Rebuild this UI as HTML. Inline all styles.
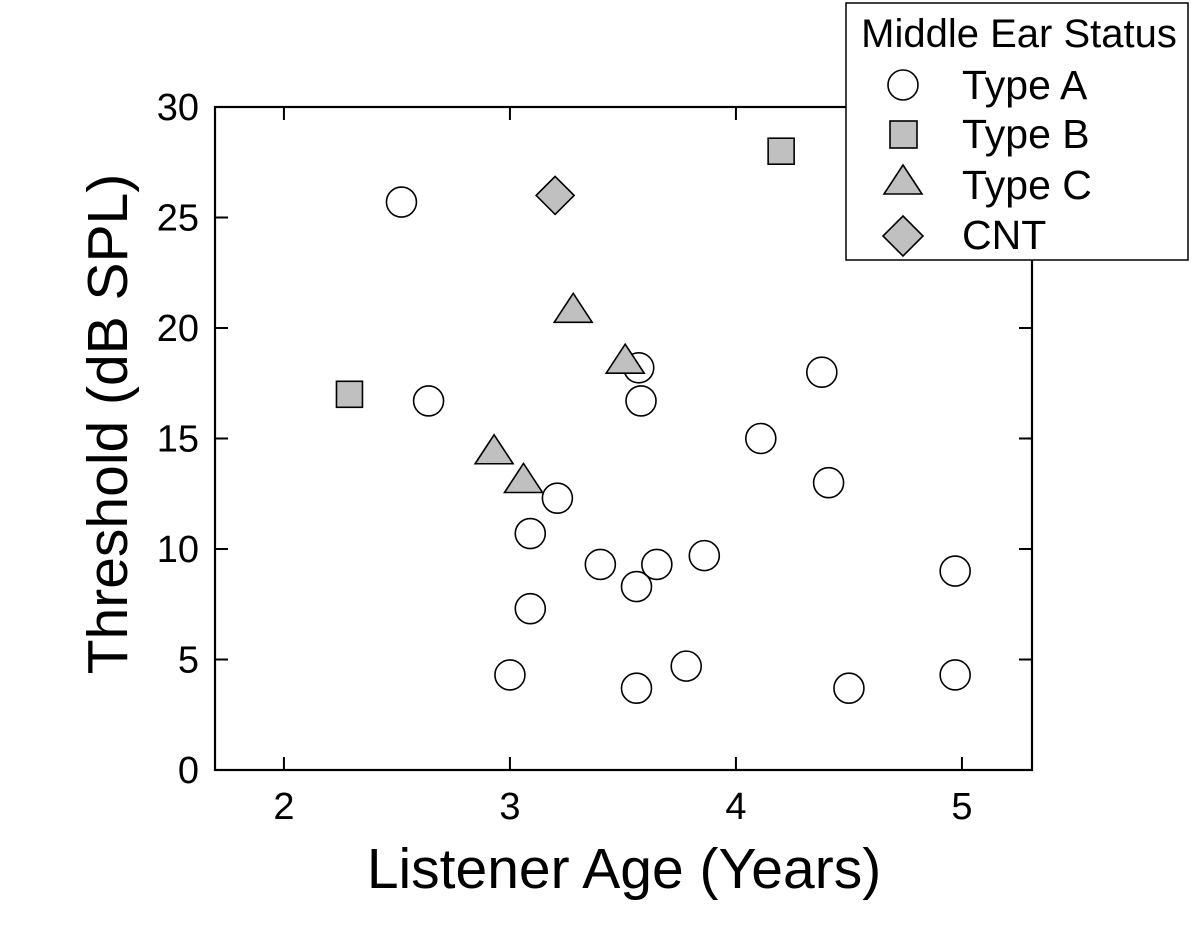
<!DOCTYPE html>
<html><head><meta charset="utf-8"><style>
body{margin:0;background:#fff}
svg{display:block;font-family:"Liberation Sans",Arial,sans-serif}
</style></head><body>
<svg id="chart" width="1200" height="925" viewBox="0 0 1200 925">
<rect x="0" y="0" width="1200" height="925" fill="#fff"/>
<g id="marks"></g>
<g id="axes"></g>
<text x="624" y="888" font-size="57" text-anchor="middle">Listener Age (Years)</text>
<text transform="translate(127,424) rotate(-90)" font-size="57" text-anchor="middle">Threshold (dB SPL)</text>
<g>
<rect x="846" y="3" width="342" height="257" fill="#fff" stroke="#000" stroke-width="1.5"/>
<text x="1019" y="47" font-size="40" text-anchor="middle">Middle Ear Status</text>
<g><circle cx="903" cy="85" r="15" fill="#fff" stroke="#000" stroke-width="1.6"/><text x="962" y="99" font-size="41">Type A</text></g>
<g><rect x="890" y="121" width="27" height="27" fill="#c0c0c0" stroke="#000" stroke-width="1.6"/><text x="962" y="148" font-size="41">Type B</text></g>
<g><polygon points="903,165 922,194 884,194" fill="#c0c0c0" stroke="#000" stroke-width="1.6"/><text x="962" y="199" font-size="41">Type C</text></g>
<g><polygon points="903,216 923,236 903,256 883,236" fill="#c0c0c0" stroke="#000" stroke-width="1.6"/><text x="962" y="249" font-size="41">CNT</text></g>
</g>
</svg>
<script>
const xTicks=[2,3,4,5];
const yTicks=[0,5,10,15,20,25,30];
const typeAx=[2.52,2.64,3.21,3.09,3.09,3.0,3.40,3.56,3.65,3.86,3.56,3.78,3.57,3.58,4.11,4.38,4.41,4.97,4.97,4.50];
const typeAy=[25.7,16.7,12.3,10.7,7.3,4.3,9.3,8.3,9.3,9.7,3.7,4.7,18.2,16.7,15,18,13,9,4.3,3.7];
const typeBx=[2.29,4.20];
const typeBy=[17,28];
const typeCx=[2.93,3.06,3.28,3.51];
const typeCy=[14.4,13.1,20.8,18.5];
const cntX=[3.20];
const cntY=[26];
const L=215,R=1032,T=107,B=770,X0=1.695,X1=5.31,Y0=0,Y1=30;
const sx=v=>L+(v-X0)/(X1-X0)*(R-L);
const sy=v=>B-(v-Y0)/(Y1-Y0)*(B-T);
const NS="http://www.w3.org/2000/svg";
function mk(tag,attrs,parent){const e=document.createElementNS(NS,tag);for(const k in attrs)e.setAttribute(k,attrs[k]);parent.appendChild(e);return e;}
const ax=document.getElementById('axes'),mg=document.getElementById('marks');
const frame=mk('rect',{x:L,y:T,width:R-L,height:B-T,fill:'none',stroke:'#000','stroke-width':2.2},ax);


xTicks.forEach(v=>{const x=sx(v);
mk('line',{x1:x,y1:B,x2:x,y2:B-13,stroke:'#000','stroke-width':2},ax);
mk('line',{x1:x,y1:T,x2:x,y2:T+13,stroke:'#000','stroke-width':2},ax);
const t=mk('text',{x:x,y:B+49,'font-size':38,'text-anchor':'middle'},ax);t.textContent=v;

});
yTicks.forEach(v=>{const y=sy(v);
mk('line',{x1:L,y1:y,x2:L+13,y2:y,stroke:'#000','stroke-width':2},ax);
mk('line',{x1:R,y1:y,x2:R-13,y2:y,stroke:'#000','stroke-width':2},ax);
const t=mk('text',{x:L-16,y:y+13,'font-size':38,'text-anchor':'end'},ax);t.textContent=v;

});
typeAx.forEach((v,i)=>{const c=mk('circle',{cx:sx(v),cy:sy(typeAy[i]),r:15,fill:'#fff',stroke:'#000','stroke-width':1.6},mg);

});
typeBx.forEach((v,i)=>{const x=sx(v),y=sy(typeBy[i]);const c=mk('rect',{x:x-13,y:y-13,width:26,height:26,fill:'#c0c0c0',stroke:'#000','stroke-width':1.6},mg);

});
typeCx.forEach((v,i)=>{const x=sx(v),y=sy(typeCy[i]);const c=mk('polygon',{points:`${x},${y-17} ${x+19},${y+12} ${x-19},${y+12}`,fill:'#c0c0c0',stroke:'#000','stroke-width':1.6},mg);

});
cntX.forEach((v,i)=>{const x=sx(v),y=sy(cntY[i]);const c=mk('polygon',{points:`${x},${y-19} ${x+19},${y} ${x},${y+19} ${x-19},${y}`,fill:'#c0c0c0',stroke:'#000','stroke-width':1.6},mg);

});
</script>
</body></html>
